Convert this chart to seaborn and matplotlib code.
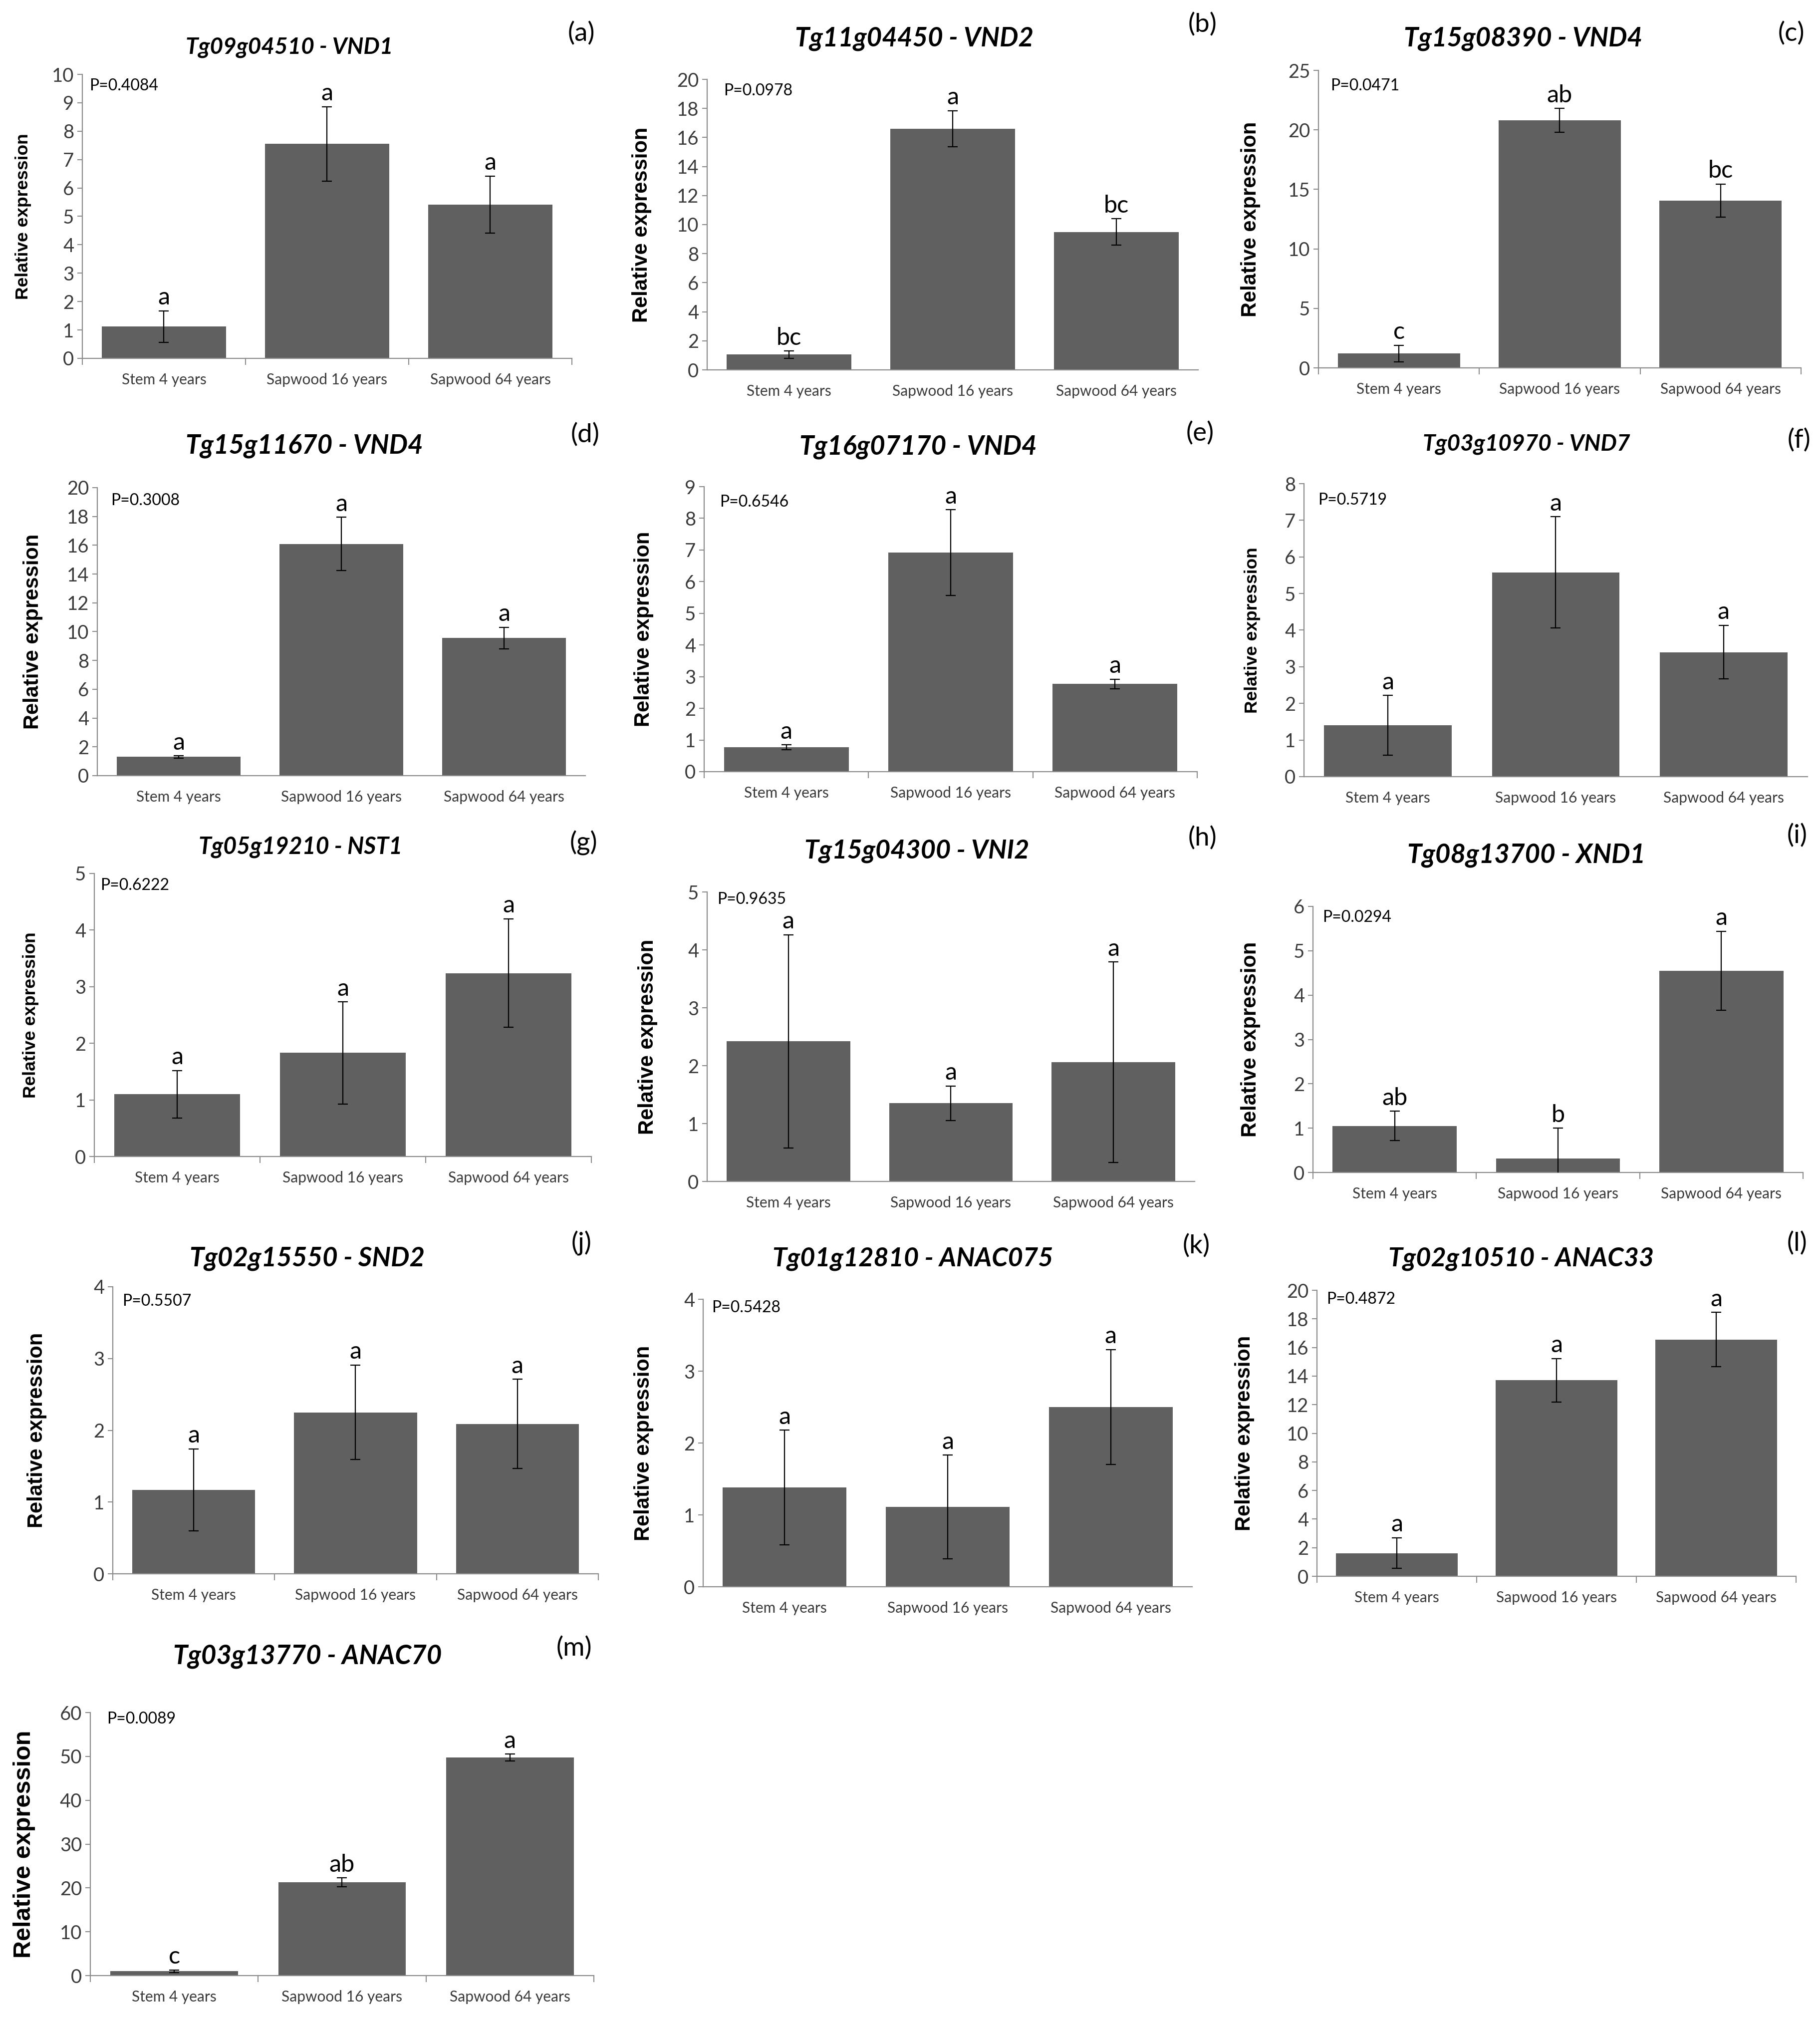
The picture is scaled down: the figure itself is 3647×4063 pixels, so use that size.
import numpy as np
import pandas as pd
import matplotlib
matplotlib.use("Agg")
import matplotlib.pyplot as plt
import seaborn as sns

# ---------------- data ----------------
categories = ["Stem 4 years", "Sapwood 16 years", "Sapwood 64 years"]
panel_ids = ["a", "b", "c", "d", "e", "f", "g", "h", "i", "j", "k", "l", "m"]
gene_ids = ["Tg09g04510", "Tg11g04450", "Tg15g08390", "Tg15g11670", "Tg16g07170",
            "Tg03g10970", "Tg05g19210", "Tg15g04300", "Tg08g13700", "Tg02g15550",
            "Tg01g12810", "Tg02g10510", "Tg03g13770"]
gene_names = ["VND1", "VND2", "VND4", "VND4", "VND4", "VND7", "NST1", "VNI2", "XND1",
              "SND2", "ANAC075", "ANAC33", "ANAC70"]
p_values = ["P=0.4084", "P=0.0978", "P=0.0471", "P=0.3008", "P=0.6546", "P=0.5719",
            "P=0.6222", "P=0.9635", "P=0.0294", "P=0.5507", "P=0.5428", "P=0.4872",
            "P=0.0089"]

means_a = [1.12, 7.55, 5.42]
err_a = [0.55, 1.31, 1.00]
letters_a = ["a", "a", "a"]

means_b = [1.05, 16.6, 9.5]
err_b = [0.25, 1.25, 0.90]
letters_b = ["bc", "a", "bc"]

means_c = [1.2, 20.8, 14.05]
err_c = [0.70, 1.00, 1.40]
letters_c = ["c", "ab", "bc"]

means_d = [1.3, 16.1, 9.55]
err_d = [0.07, 1.85, 0.75]
letters_d = ["a", "a", "a"]

means_e = [0.77, 6.92, 2.77]
err_e = [0.08, 1.35, 0.15]
letters_e = ["a", "a", "a"]

means_f = [1.40, 5.58, 3.40]
err_f = [0.82, 1.52, 0.73]
letters_f = ["a", "a", "a"]

means_g = [1.10, 1.83, 3.24]
err_g = [0.42, 0.90, 0.96]
letters_g = ["a", "a", "a"]

means_h = [2.42, 1.35, 2.06]
err_h = [1.84, 0.30, 1.73]
letters_h = ["a", "a", "a"]

means_i = [1.05, 0.32, 4.55]
err_i = [0.33, 0.68, 0.89]
letters_i = ["ab", "b", "a"]

means_j = [1.17, 2.25, 2.09]
err_j = [0.57, 0.66, 0.62]
letters_j = ["a", "a", "a"]

means_k = [1.38, 1.11, 2.50]
err_k = [0.80, 0.72, 0.80]
letters_k = ["a", "a", "a"]

means_l = [1.62, 13.70, 16.55]
err_l = [1.07, 1.52, 1.90]
letters_l = ["a", "a", "a"]

means_m = [1.0, 21.3, 49.7]
err_m = [0.30, 1.00, 0.80]
letters_m = ["c", "ab", "a"]

y_max = [10, 20, 25, 20, 9, 8, 5, 5, 6, 4, 4, 20, 60]
y_step = [1, 2, 5, 2, 1, 1, 1, 1, 1, 1, 1, 2, 10]

all_means = [means_a, means_b, means_c, means_d, means_e, means_f, means_g,
             means_h, means_i, means_j, means_k, means_l, means_m]
all_errs = [err_a, err_b, err_c, err_d, err_e, err_f, err_g, err_h, err_i,
            err_j, err_k, err_l, err_m]
all_letters = [letters_a, letters_b, letters_c, letters_d, letters_e, letters_f,
               letters_g, letters_h, letters_i, letters_j, letters_k, letters_l,
               letters_m]

# ---------------- layout (pixels) ----------------
W, H, DPI = 3648, 4063, 100
axes_px = [  # left, right, top, bottom
    (165, 1146, 149, 718), (1417, 2401, 159, 741), (2642, 3609, 141, 737),
    (195, 1173, 977, 1554), (1411, 2399, 975, 1546), (2613, 3622, 969, 1556),
    (189, 1185, 1750, 2317), (1417, 2394, 1787, 2367), (2631, 3613, 1816, 2349),
    (226, 1199, 2578, 3153), (1409, 2389, 2603, 3179), (2639, 3599, 2585, 3158),
    (181, 1190, 3431, 3958)]
title_px = [(580, 95), (1832, 77), (3052, 77), (610, 893), (1840, 895), (3059, 890),
            (602, 1697), (1837, 1705), (3059, 1713), (616, 2522), (1829, 2522),
            (3048, 2522), (616, 3318)]
title_size = [33, 38, 38, 38, 38, 33, 33.5, 37.5, 38, 38, 37.5, 37.5, 38]
label_px = [(1165, 67), (2410, 49), (3589, 67), (1173, 871), (2405, 868), (3605, 882),
            (1169, 1689), (2410, 1679), (3601, 1674), (1165, 2491), (2397, 2496),
            (3601, 2491), (1150, 3302)]
ylab_x = [47, 1286, 2506, 66, 1290, 2510, 62, 1298, 2506, 74, 1290, 2494, 49]
ylab_size = [25.5, 30, 30, 30, 30, 25.5, 25.5, 30, 30, 30, 30, 30, 35]
p_off = [(14, 23), (33, 23), (24, 31), (27, 26), (31, 31), (28, 33), (12, 24),
         (20, 15), (19, 22), (19, 29), (17, 17), (19, 18), (33, 13)]
separators = [True, False, True, False, True, False, True, False, True, True,
              False, True, True]

BAR = "#606060"
AXIS = "#8c8c8c"
TICKTXT = "#3a3a3a"

sns.set_theme(style="white")
plt.rcParams["font.family"] = ["Lato", "DejaVu Sans"]

fig = plt.figure(figsize=(W / DPI, H / DPI), dpi=DPI)
fig.patch.set_facecolor("white")

for i, pid in enumerate(panel_ids):
    l, r, t, b = axes_px[i]
    ax = fig.add_axes([l / W, 1 - b / H, (r - l) / W, (b - t) / H])
    df = pd.DataFrame({"group": categories, "value": all_means[i]})
    sns.barplot(data=df, x="group", y="value", order=categories, color=BAR,
                saturation=1, width=0.76, errorbar=None, linewidth=0, ax=ax)
    xs = np.arange(len(categories))
    ax.errorbar(xs, all_means[i], yerr=all_errs[i], fmt="none", ecolor="black",
                elinewidth=1.6, capsize=7, capthick=1.6, zorder=4)
    ax.set_xlim(-0.5, 2.5)
    ax.set_ylim(0, y_max[i])
    ticks = np.arange(0, y_max[i] + y_step[i] / 2, y_step[i])
    ax.set_yticks(ticks)
    ax.set_yticklabels([f"{v:g}" for v in ticks])
    ax.set_xlabel("")
    ax.set_ylabel("")
    for s in ["top", "right"]:
        ax.spines[s].set_visible(False)
    for s in ["left", "bottom"]:
        ax.spines[s].set_color(AXIS)
        ax.spines[s].set_linewidth(1.6)
    ax.tick_params(axis="y", which="major", direction="out", length=7, width=1.5,
                   color=AXIS, pad=5, labelsize=27.5, labelcolor=TICKTXT, left=True)
    ax.tick_params(axis="x", which="major", length=0, pad=21, labelsize=21.5,
                   labelcolor=TICKTXT)
    if separators[i]:
        ax.set_xticks([-0.5, 0.5, 1.5, 2.5], minor=True)
        ax.tick_params(axis="x", which="minor", direction="out", length=9,
                       width=1.5, color=AXIS, bottom=True)
    # significance letters
    for x, m, e, let in zip(xs, all_means[i], all_errs[i], all_letters[i]):
        ax.annotate(let, xy=(x, m + e), xytext=(0, 9), textcoords="offset points",
                    ha="center", va="baseline", fontsize=35, color="black",
                    annotation_clip=False)
    # P value
    dx, dy = p_off[i]
    fig.text((l + dx) / W, 1 - (t + dy) / H, p_values[i], ha="left", va="center",
             fontsize=23, color="black")
    # title
    tx, ty = title_px[i]
    fig.text(tx / W, 1 - ty / H, f"{gene_ids[i]} - {gene_names[i]}", ha="center",
             va="center", fontsize=title_size[i], fontweight="bold",
             fontstyle="italic", color="black")
    # panel label
    px, py = label_px[i]
    fig.text(px / W, 1 - py / H, f"({pid})", ha="center", va="center",
             fontsize=38, color="black")
    # y label
    fig.text(ylab_x[i] / W, 1 - ((t + b) / 2) / H, "Relative expression",
             rotation=90, ha="center", va="center", fontsize=ylab_size[i],
             fontweight="bold", family=["Liberation Sans", "DejaVu Sans"],
             color="black")

fig.savefig("out.png", dpi=DPI, facecolor="white")
